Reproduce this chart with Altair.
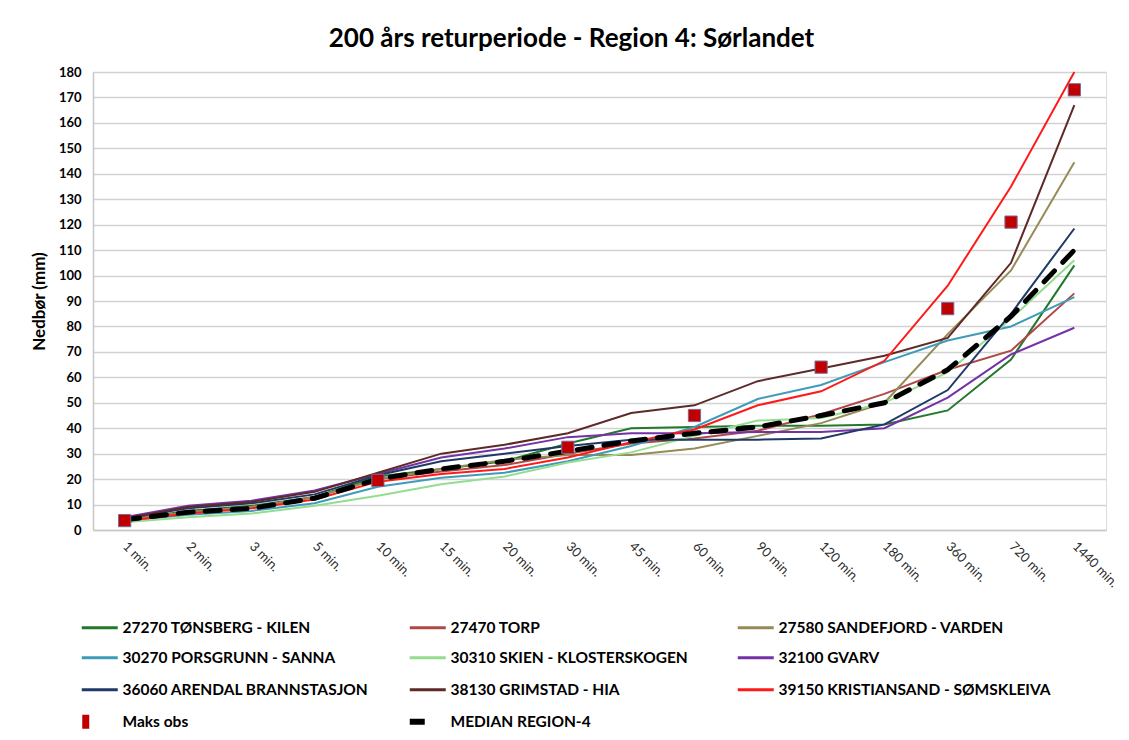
import altair as alt
import pandas as pd

durations = ["1 min.", "2 min.", "3 min.", "5 min.", "10 min.", "15 min.", "20 min.", "30 min.",
             "45 min.", "60 min.", "90 min.", "120 min.", "180 min.", "360 min.", "720 min.", "1440 min."]

stations = ["27270 TØNSBERG - KILEN", "27470 TORP", "27580 SANDEFJORD - VARDEN",
            "30270 PORSGRUNN - SANNA", "30310 SKIEN - KLOSTERSKOGEN", "32100 GVARV",
            "36060 ARENDAL BRANNSTASJON", "38130 GRIMSTAD - HIA", "39150 KRISTIANSAND - SØMSKLEIVA"]

tonsberg     = [4.0, 7.5, 9.5, 13.0, 21.0, 24.0, 27.0, 34.0, 40.0, 40.5, 41.0, 41.0, 41.5, 47.0, 67.0, 104.0]
torp         = [4.0, 7.0, 9.0, 13.0, 20.0, 23.0, 25.5, 30.0, 34.0, 36.0, 39.0, 45.5, 53.5, 63.0, 70.5, 93.0]
sandefjord   = [4.0, 7.0, 9.0, 13.0, 20.0, 24.0, 27.5, 29.5, 29.5, 32.0, 37.0, 42.0, 50.0, 77.0, 102.0, 144.5]
porsgrunn    = [3.5, 6.0, 7.5, 10.5, 17.0, 20.5, 22.5, 27.0, 33.0, 40.5, 51.5, 57.0, 66.0, 74.5, 80.0, 91.5]
skien        = [3.0, 5.0, 6.5, 9.5, 13.5, 18.0, 21.0, 26.5, 30.5, 37.0, 43.0, 44.0, 50.0, 62.0, 83.0, 106.0]
gvarv        = [5.0, 9.5, 11.5, 15.5, 22.0, 28.5, 32.0, 36.5, 38.0, 38.0, 38.5, 38.5, 40.0, 52.0, 69.0, 79.5]
arendal      = [4.5, 8.5, 10.5, 14.0, 21.5, 27.0, 30.0, 33.0, 35.5, 35.5, 35.5, 36.0, 41.5, 55.0, 85.0, 118.5]
grimstad     = [4.5, 9.0, 11.0, 15.0, 22.5, 30.0, 33.5, 38.0, 46.0, 49.0, 58.5, 63.5, 68.5, 75.5, 105.0, 167.0]
kristiansand = [3.5, 6.5, 8.5, 12.0, 19.0, 22.0, 24.0, 28.5, 34.5, 39.5, 49.0, 54.5, 66.5, 96.0, 135.0, 180.0]

median_name = "MEDIAN REGION-4"
median_vals = [4.0, 7.0, 8.5, 12.5, 20.0, 24.0, 27.0, 31.0, 35.0, 38.0, 40.5, 45.0, 50.0, 63.0, 84.0, 110.0]

maks_name = "Maks obs"
maks_durations = ["1 min.", "10 min.", "30 min.", "60 min.", "120 min.", "360 min.", "720 min.", "1440 min."]
maks_vals = [3.7, 19.5, 32.5, 45.0, 64.0, 87.0, 121.0, 173.0]

station_colors = ["#23782c", "#b04845", "#968b57", "#3f9cb8", "#94dd8f", "#7432a6",
                  "#1f3a68", "#5e2a27", "#ff1a1a"]
maks_color = "#c00000"
median_color = "#000000"

series_names = stations + [maks_name, median_name]
series_colors = station_colors + [maks_color, median_color]

station_values = [tonsberg, torp, sandefjord, porsgrunn, skien, gvarv, arendal, grimstad, kristiansand]
rows = []
for name, vals in zip(stations, station_values):
    for d, v in zip(durations, vals):
        rows.append({"varighet": d, "nedbor": v, "serie": name})
lines_df = pd.DataFrame(rows)
median_df = pd.DataFrame({"varighet": durations, "nedbor": median_vals, "serie": median_name})
maks_df = pd.DataFrame({"varighet": maks_durations, "nedbor": maks_vals, "serie": maks_name})

FONT = "Lato"

x_enc = alt.X(
    "varighet:N",
    scale=alt.Scale(type="point", domain=durations, padding=0.5),
    axis=alt.Axis(
        title=None, labelAngle=45, labelAlign="left", labelBaseline="middle",
        labelPadding=14, ticks=False, grid=False, domainColor="#c8c8c8", domainWidth=1.5,
        labelFont=FONT, labelFontSize=13, labelColor="#2a2a2a", labelLimit=200,
    ),
)
y_enc = alt.Y(
    "nedbor:Q",
    scale=alt.Scale(domain=[0, 180], nice=False),
    axis=alt.Axis(
        title="Nedbør (mm)", values=list(range(0, 181, 10)), ticks=False,
        labelPadding=12, labelFont=FONT, labelFontSize=13, labelFontWeight="bold",
        labelColor="#000000", titleFont=FONT, titleFontSize=17, titleFontWeight="bold",
        titleColor="#000000", titlePadding=10, gridColor="#d2d2d2", gridWidth=1.5,
        domainColor="#c8c8c8", domainWidth=1.5,
    ),
)

maks_path = "M-2.5,-1L-1.5,-1L-1.5,1L-2.5,1Z"
median_path = "M-2.4,0L-0.4,0"

color_enc = alt.Color(
    "serie:N",
    scale=alt.Scale(domain=series_names, range=series_colors),
    legend=alt.Legend(
        title=None, orient="none", legendX=-1, legendY=546, columns=3,
        direction="horizontal", gridAlign="all", columnPadding=2, rowPadding=7,
        symbolType=alt.ExprRef(expr=f"datum.value == 'Maks obs' ? '{maks_path}' : (datum.value == 'MEDIAN REGION-4' ? '{median_path}' : 'stroke')"),
        symbolSize=alt.ExprRef(expr="datum.value == 'Maks obs' ? 196 : (datum.value == 'MEDIAN REGION-4' ? 225 : 1296)"),
        symbolStrokeWidth=alt.ExprRef(expr="datum.value == 'MEDIAN REGION-4' ? 6 : (datum.value == 'Maks obs' ? 0 : 3)"),
        symbolFillColor=alt.ExprRef(expr="datum.value == 'Maks obs' ? '#c00000' : 'transparent'"),
        labelFont=FONT, labelFontSize=15.5, labelFontWeight="bold", labelColor="#000000",
        labelLimit=400, labelOffset=15,
    ),
)

lines = alt.Chart(lines_df).mark_line(strokeWidth=2).encode(
    x=x_enc, y=y_enc, color=color_enc, detail="serie:N"
)
median = alt.Chart(median_df).mark_line(strokeWidth=5, strokeDash=[15, 12], strokeCap="round").encode(
    x=x_enc, y=y_enc, color=color_enc
)
maks = alt.Chart(maks_df).mark_square(size=150, filled=True, stroke="#7d6a98", strokeWidth=1, opacity=1).encode(
    x=x_enc, y=y_enc, color=color_enc
)

chart = alt.layer(lines, median, maks).properties(
    width=1013,
    height=458,
    autosize=alt.AutoSizeParams(type="none"),
    padding={"left": 85, "top": 64, "right": 15, "bottom": 200},
    title=alt.TitleParams(
        text="200 års returperiode - Region 4: Sørlandet",
        font=FONT, fontSize=26, fontWeight="bold", color="#000000",
        anchor="middle", dx=-28, offset=14,
    ),
).configure_view(stroke=None).configure(background="white")

chart.save("out.html", embed_options={"renderer": "svg", "actions": False})
